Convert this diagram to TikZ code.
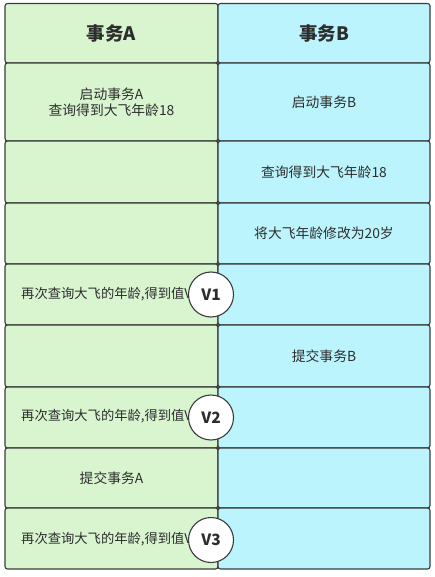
\documentclass[tikz,border=0pt]{standalone}
\usepackage{fontspec}
\setmainfont{Noto Sans CJK SC}
\definecolor{greenC}{RGB}{216,245,208}
\definecolor{cyanC}{RGB}{187,244,253}
\definecolor{lineC}{RGB}{60,60,60}
\definecolor{textC}{RGB}{45,45,45}
\begin{document}
\begin{tikzpicture}[x=1pt,y=-1pt,
  cellbase/.style={draw=lineC, line width=1.1pt, rounded corners=2.5pt, inner sep=0pt,
    text=textC, align=center, font=\fontsize{13.8}{16}\selectfont},
  cellA/.style={cellbase, fill=greenC, minimum width=213pt},
  cellB/.style={cellbase, fill=cyanC, minimum width=212pt},
  head/.style={font=\fontsize{18.5}{20}\selectfont\bfseries},
  qtext/.style={anchor=west, inner sep=0pt, text=textC, font=\fontsize{13.3}{16}\selectfont},
  vmark/.style={circle, draw=lineC, line width=1.1pt, fill=white, minimum size=45pt, inner sep=0pt,
    text=textC, font=\fontsize{15.5}{17}\selectfont\bfseries}]
\useasboundingbox (0,0) rectangle (435,577);
% header
\node[cellA, head, minimum height=59.5pt] (a0) at (111.5,33.25) {事务A};
\node[cellB, head, minimum height=59.5pt] (b0) at (324,33.25) {事务B};
% row 1
\node[cellA, minimum height=78pt] (a1) at (111.5,102) {启动事务A\\查询得到大飞年龄18};
\node[cellB, minimum height=78pt] (b1) at (324,102) {启动事务B};
% row 2
\node[cellA, minimum height=62pt] (a2) at (111.5,172) {};
\node[cellB, minimum height=62pt] (b2) at (324,172) {查询得到大飞年龄18};
% row 3
\node[cellA, minimum height=61pt] (a3) at (111.5,233.5) {};
\node[cellB, minimum height=61pt] (b3) at (324,233.5) {将大飞年龄修改为20岁};
% row 4
\node[cellA, minimum height=61pt] (a4) at (111.5,294.5) {};
\node[cellB, minimum height=61pt] (b4) at (324,294.5) {};
\node[qtext] (t4) at (21,294.5) {再次查询大飞的年龄,得到值V};
% row 5
\node[cellA, minimum height=62pt] (a5) at (111.5,356) {};
\node[cellB, minimum height=62pt] (b5) at (324,356) {提交事务B};
% row 6
\node[cellA, minimum height=61pt] (a6) at (111.5,417.5) {};
\node[cellB, minimum height=61pt] (b6) at (324,417.5) {};
\node[qtext] (t6) at (21,416.5) {再次查询大飞的年龄,得到值V};
% row 7
\node[cellA, minimum height=60pt] (a7) at (111.5,478) {提交事务A};
\node[cellB, minimum height=60pt] (b7) at (324,478) {};
% row 8
\node[cellA, minimum height=61pt] (a8) at (111.5,538.5) {};
\node[cellB, minimum height=61pt] (b8) at (324,538.5) {};
\node[qtext] (t8) at (21,539.5) {再次查询大飞的年龄,得到值V};
% value markers
\node[vmark] (v1) at (211,294.5) {V1};
\node[vmark] (v2) at (211,417.5) {V2};
\node[vmark] (v3) at (211,540) {V3};
\end{tikzpicture}
\end{document}
